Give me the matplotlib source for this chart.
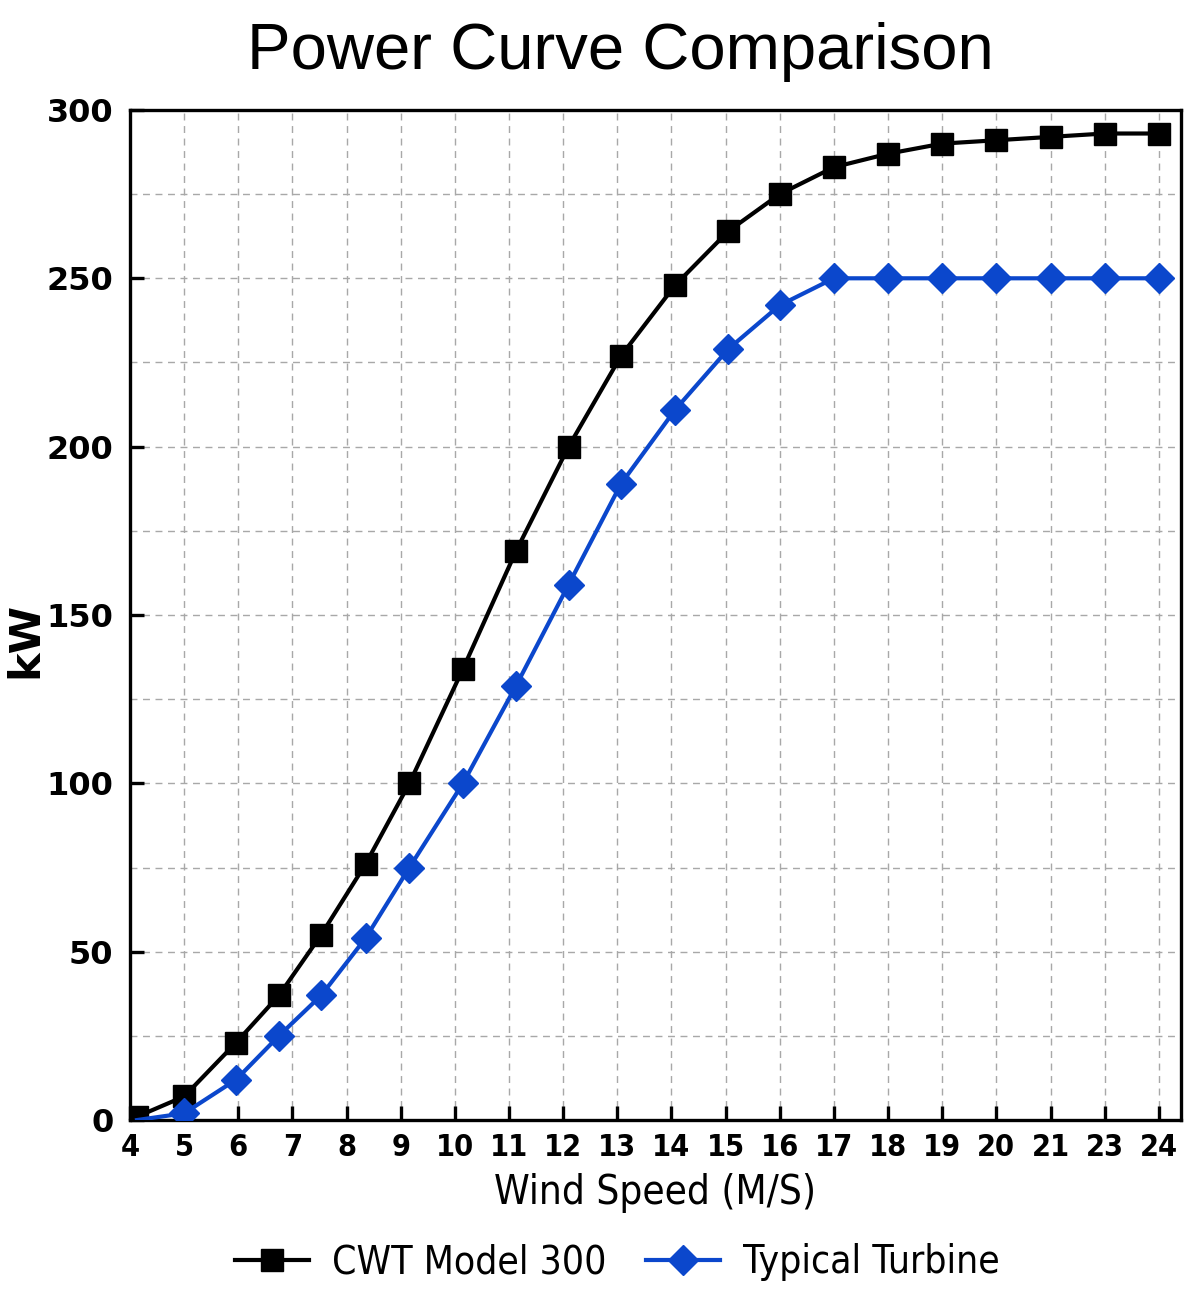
import numpy as np
import matplotlib
matplotlib.use('Agg')
import matplotlib.pyplot as plt
from matplotlib.ticker import MultipleLocator

# wind speed axis labels (note: no 22 on the original axis)
tick_speeds = [4, 5, 6, 7, 8, 9, 10, 11, 12, 13, 14, 15, 16, 17, 18, 19, 20, 21, 23, 24]

# measured points (wind speed m/s, kW)
speed = [4.13, 5, 5.96, 6.75, 7.53, 8.35, 9.16, 10.15, 11.13, 12.1, 13.07,
         14.07, 15.05, 16, 17, 18, 19, 20, 21, 23, 24]
cwt_kw = [1, 7, 23, 37, 55, 76, 100, 134, 169, 200, 227,
          248, 264, 275, 283, 287, 290, 291, 292, 293, 293]
typical_kw = [0, 2, 12, 25, 37, 54, 75, 100, 129, 159, 189,
              211, 229, 242, 250, 250, 250, 250, 250, 250, 250]

# axis positions: ticks evenly spaced, 21 -> 23 takes one slot
pos_speed = [4, 21, 23, 25]
pos_idx = [0, 17, 18, 20]

def fwd(x):
	return np.interp(x, pos_speed, pos_idx)

def inv(p):
	return np.interp(p, pos_idx, pos_speed)

fig = plt.figure(figsize=(11.99, 13.12), dpi=100)
ax = fig.add_axes([0.1084, 0.1463, 0.8766, 0.7699])
ax.set_xscale('function', functions=(fwd, inv))

ax.plot(speed, cwt_kw, color='black', lw=3.0, marker='s', ms=16,
	label='CWT Model 300', zorder=3)
ax.plot(speed, typical_kw, color='#0B47CC', lw=3.0, marker='D', ms=15,
	markevery=list(range(1, len(speed))), label='Typical Turbine', zorder=4)

ax.set_xlim(4, 24.41)
ax.set_ylim(0, 300)
ax.set_xticks(tick_speeds)
ax.set_xticklabels([str(s) for s in tick_speeds])
ax.xaxis.set_minor_locator(plt.NullLocator())
ax.yaxis.set_major_locator(MultipleLocator(50))
ax.yaxis.set_minor_locator(MultipleLocator(25))

ax.grid(True, which='both', color='#a8a8a8', linestyle=(0, (5, 4)), linewidth=1.0)
ax.set_axisbelow(True)

for side in ax.spines.values():
	side.set_linewidth(2.4)

ax.tick_params(axis='both', which='major', direction='in', length=10, width=2.4)
ax.tick_params(axis='y', which='minor', direction='in', length=0)
ax.tick_params(axis='x', labelsize=22, pad=9)
ax.tick_params(axis='y', labelsize=23, pad=12)
for lab in ax.get_xticklabels():
	lab.set_fontstretch('condensed')
	lab.set_fontweight('bold')
for lab in ax.get_yticklabels():
	lab.set_fontweight('bold')

ax.set_xlabel('Wind Speed (M/S)', fontsize=29, fontstretch='condensed', labelpad=8)
fig.text(0.021, 0.512, 'kW', fontsize=31, fontweight='bold', rotation=90,
	ha='center', va='center')
fig.suptitle('Power Curve Comparison', fontsize=47, family='Liberation Sans',
	x=0.517, y=0.983)

leg = fig.legend(loc='center', bbox_to_anchor=(0.515, 0.038), ncol=2, frameon=False,
	fontsize=28, handlelength=1.9, columnspacing=1.0, handletextpad=0.6)
for t in leg.get_texts():
	t.set_fontstretch('condensed')

fig.savefig('out.png', dpi=100)
